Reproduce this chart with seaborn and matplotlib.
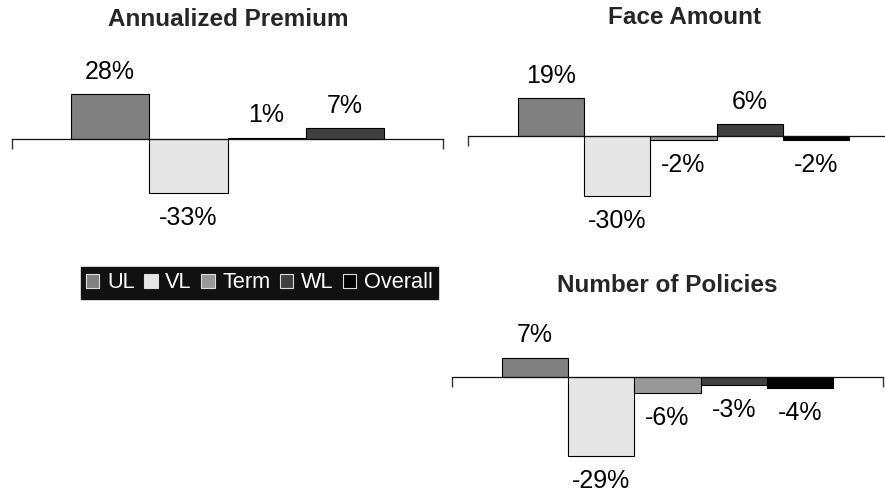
import matplotlib
matplotlib.use("Agg")
import matplotlib.pyplot as plt
import seaborn as sns
import pandas as pd

# Year-over-year change by product line
series_all = ["UL", "VL", "Term", "WL", "Overall"]
colors = ["#808080", "#e6e6e6", "#999999", "#404040", "#000000"]

premium_series = ["UL", "VL", "Term", "WL"]
premium_values = [28, -33, 1, 7]

face_series = ["UL", "VL", "Term", "WL", "Overall"]
face_values = [19, -30, -2, 6, -2]

policies_series = ["UL", "VL", "Term", "WL", "Overall"]
policies_values = [7, -29, -6, -3, -4]

titles = ["Annualized Premium", "Face Amount", "Number of Policies"]

sns.set_theme(style="white")
plt.rcParams["font.family"] = ["Liberation Sans", "DejaVu Sans"]

W, H = 885, 491
fig = plt.figure(figsize=(W / 100, H / 100), dpi=100)
palette = dict(zip(series_all, colors))


def box(left, top, width, bottom):
    return [left / W, 1 - bottom / H, width / W, (bottom - top) / H]


panels = [
    (premium_series, premium_values, box(12, 50, 431, 240), (-62.2, 55.1)),
    (face_series, face_values, box(468, 50, 431, 240), (-52.0, 43.0)),
    (policies_series, policies_values, box(452, 300, 431, 491), (-42.0, 28.2)),
]

margin = 0.755
axes = []
for i, (names, vals, rect, ylim) in enumerate(panels):
    ax = fig.add_axes(rect)
    df = pd.DataFrame({"series": names, "value": vals})
    sns.barplot(data=df, x="series", y="value", hue="series", order=names,
                hue_order=names, palette=palette, width=1.0,
                edgecolor="black", linewidth=0.8, legend=(i == 1), ax=ax)
    n = len(names)
    ax.set_xlim(-0.5 - margin, n - 0.5 + margin)
    ax.set_ylim(*ylim)
    for side in ("top", "right", "left"):
        ax.spines[side].set_visible(False)
    ax.spines["bottom"].set_position(("data", 0))
    ax.spines["bottom"].set_color("#111111")
    ax.spines["bottom"].set_linewidth(0.9)
    ax.set_xticks([-0.5 - margin, n - 0.5 + margin])
    ax.set_xticklabels([])
    ax.tick_params(axis="x", bottom=True, direction="out", length=7.5,
                   width=1.0, color="#333333")
    ax.set_yticks([])
    ax.set_xlabel("")
    ax.set_ylabel("")
    ax.set_facecolor("none")
    for j, v in enumerate(vals):
        off = 16 if v >= 0 else -18
        ax.annotate(f"{v}%", xy=(j, v), xytext=(0, off),
                    textcoords="offset points", ha="center", va="center",
                    fontsize=18, color="black")
    axes.append(ax)

# Panel titles
fig.text(228 / W, 1 - 20 / H, titles[0], ha="center", va="center",
         fontsize=17.5, fontweight="bold")
fig.text(684 / W, 1 - 18 / H, titles[1], ha="center", va="center",
         fontsize=17.5, fontweight="bold")
fig.text(667 / W, 1 - 285 / H, titles[2], ha="center", va="center",
         fontsize=17.5, fontweight="bold")

# Shared legend on a black band
handles, labels = axes[1].get_legend_handles_labels()
axes[1].get_legend().remove()
leg = fig.legend(handles, labels, loc="center", bbox_to_anchor=(259.5 / W, 1 - 283 / H),
                 ncol=5, frameon=True, fancybox=False, framealpha=1.0, fontsize=15.7,
                 handlelength=0.6, handleheight=0.6, handletextpad=0.35,
                 columnspacing=0.45, borderpad=0.25, borderaxespad=0,
                 labelcolor="white")
leg.get_frame().set_facecolor("#111111")
leg.get_frame().set_edgecolor("#111111")
for h in leg.legend_handles:
    h.set_edgecolor("#dddddd")
    h.set_linewidth(0.8)

fig.savefig("out.png", dpi=100)
